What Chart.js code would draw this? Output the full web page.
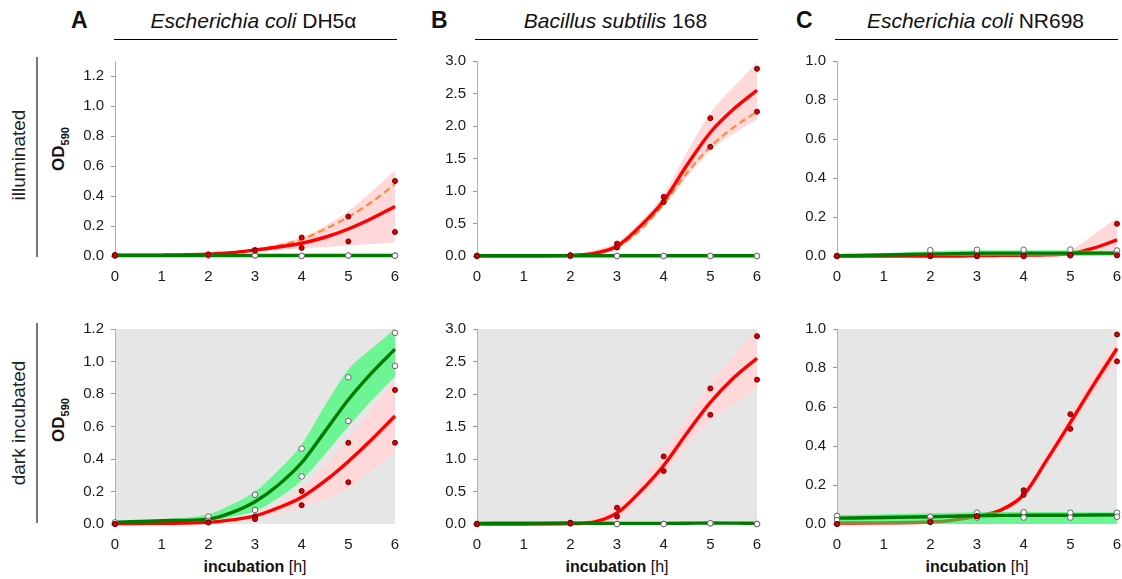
<!DOCTYPE html>
<html>
<head>
<meta charset="utf-8">
<script src="https://cdn.jsdelivr.net/npm/chart.js@4.4.0/dist/chart.umd.min.js"></script>
<style>
body { margin: 0; width: 1122px; height: 579px; overflow: hidden; background: #fff; position: relative;
       font-family: 'Liberation Sans', Arial, sans-serif; color: #111; }
.abs { position: absolute; }
.letter { font-weight: bold; font-size: 23px; }
.title { font-size: 21px; text-align: center; width: 283px; white-space: nowrap; }
.rule { height: 0; width: 283px; border-top: 1.5px solid #000; }
.vrule { width: 0; border-left: 2px solid #777; }
.rot { transform: translate(-50%, -50%) rotate(-90deg); white-space: nowrap; }
.row { font-size: 19px; color: #222; }
.od { font-size: 17px; font-weight: bold; }
.od sub { font-size: 11px; }
.xl { font-size: 16px; width: 280px; text-align: center; }
.box { position: absolute; width: 344px; height: 243px; }
</style>
</head>
<body>

<div class="abs letter" style="left:71px; top:7px;">A</div>
<div class="abs title" style="left:112px; top:9px;"><i>Escherichia coli</i> DH5α</div>
<div class="abs rule" style="left:114px; top:39px;"></div>

<div class="abs letter" style="left:431px; top:7px;">B</div>
<div class="abs title" style="left:474px; top:9px;"><i>Bacillus subtilis</i> 168</div>
<div class="abs rule" style="left:475px; top:39px;"></div>

<div class="abs letter" style="left:796px; top:7px;">C</div>
<div class="abs title" style="left:834px; top:9px;"><i>Escherichia coli</i> NR698</div>
<div class="abs rule" style="left:835px; top:39px;"></div>

<div class="abs vrule" style="left:36px; top:57px; height:200px;"></div>
<div class="abs vrule" style="left:36px; top:323px; height:200px;"></div>
<div class="abs rot row" style="left:19px; top:155px;">illuminated</div>
<div class="abs rot row" style="left:19px; top:423px;">dark incubated</div>
<div class="abs rot od" style="left:60px; top:149px;">OD<sub>590</sub></div>
<div class="abs rot od" style="left:60px; top:420px;">OD<sub>590</sub></div>

<div class="abs xl" style="left:115px; top:558px;"><b>incubation</b> [h]</div>
<div class="abs xl" style="left:477px; top:558px;"><b>incubation</b> [h]</div>
<div class="abs xl" style="left:837px; top:558px;"><b>incubation</b> [h]</div>

<div class="box" style="left:65px; top:45px;"><canvas id="aIll"></canvas></div>
<div class="box" style="left:427px; top:45px;"><canvas id="bIll"></canvas></div>
<div class="box" style="left:787px; top:45px;"><canvas id="cIll"></canvas></div>
<div class="box" style="left:65px; top:313px;"><canvas id="aDark"></canvas></div>
<div class="box" style="left:427px; top:313px;"><canvas id="bDark"></canvas></div>
<div class="box" style="left:787px; top:313px;"><canvas id="cDark"></canvas></div>

<script>
// time axis
const fitHours = [0, 1, 2, 2.5, 3, 3.5, 4, 4.5, 5, 5.5, 6];
const dotHours = [0, 0, 2, 2, 3, 3, 4, 4, 5, 5, 6, 6];
const xTicks = [0, 1, 2, 3, 4, 5, 6];

const yTicksA = [0, 0.2, 0.4, 0.6, 0.8, 1.0, 1.2];
const yTicksB = [0, 0.5, 1.0, 1.5, 2.0, 2.5, 3.0];
const yTicksC = [0, 0.2, 0.4, 0.6, 0.8, 1.0];

// A - E. coli DH5a, illuminated
const aIllRedFit = [0.005, 0.006, 0.012, 0.022, 0.04, 0.06, 0.085, 0.125, 0.18, 0.25, 0.33];
const aIllRedHi = [0.006, 0.007, 0.014, 0.026, 0.05, 0.08, 0.125, 0.2, 0.3, 0.43, 0.57];
const aIllRedLo = [0.004, 0.005, 0.01, 0.018, 0.03, 0.04, 0.05, 0.06, 0.07, 0.08, 0.09];
const aIllOrange = [null, null, null, null, 0.04, 0.07, 0.11, 0.18, 0.26, 0.36, 0.48];
const aIllGreenFit = [0.003, 0.003, 0.003, 0.003, 0.003, 0.003, 0.003, 0.003, 0.003, 0.003, 0.003];
const aIllGreenHi = [0.008, 0.008, 0.008, 0.008, 0.008, 0.008, 0.008, 0.008, 0.008, 0.008, 0.008];
const aIllGreenLo = [0, 0, 0, 0, 0, 0, 0, 0, 0, 0, 0];
const aIllRedDots = [0.005, 0.005, 0.01, 0.01, 0.04, 0.035, 0.123, 0.054, 0.263, 0.097, 0.50, 0.16];
const aIllWhiteDots = [0.003, 0.003, 0.005, 0.004, 0.004, 0.004, 0.0, 0.001, 0.003, 0.003, 0.002, 0.002];

// A - dark incubated
const aDarkGreenFit = [0.01, 0.02, 0.03, 0.07, 0.137, 0.24, 0.377, 0.57, 0.765, 0.93, 1.076];
const aDarkGreenHi = [0.012, 0.03, 0.06, 0.12, 0.2, 0.33, 0.49, 0.73, 0.95, 1.08, 1.2];
const aDarkGreenLo = [0.008, 0.012, 0.02, 0.045, 0.08, 0.16, 0.27, 0.43, 0.6, 0.76, 0.91];
const aDarkRedFit = [0.002, 0.004, 0.01, 0.025, 0.05, 0.1, 0.165, 0.265, 0.385, 0.52, 0.665];
const aDarkRedHi = [0.003, 0.005, 0.012, 0.03, 0.065, 0.13, 0.22, 0.36, 0.53, 0.71, 0.89];
const aDarkRedLo = [0.001, 0.003, 0.008, 0.02, 0.035, 0.065, 0.1, 0.155, 0.22, 0.33, 0.44];
const aDarkRedDots = [0.0, 0.0, 0.01, 0.01, 0.046, 0.03, 0.203, 0.116, 0.5, 0.257, 0.825, 0.5];
const aDarkWhiteDots = [0.005, 0.01, 0.046, 0.02, 0.18, 0.086, 0.464, 0.293, 0.903, 0.634, 1.176, 0.973];

// B - B. subtilis 168, illuminated
const bIllRedFit = [0.002, 0.003, 0.01, 0.04, 0.15, 0.46, 0.85, 1.4, 1.9, 2.26, 2.55];
const bIllRedHi = [0.003, 0.004, 0.02, 0.09, 0.21, 0.53, 0.95, 1.6, 2.2, 2.6, 2.98];
const bIllRedLo = [0.001, 0.002, 0.005, 0.02, 0.1, 0.38, 0.76, 1.22, 1.62, 1.88, 2.1];
const bIllOrange = [null, null, null, null, 0.12, 0.4, 0.8, 1.28, 1.68, 1.98, 2.22];
const bIllGreenFit = [0.005, 0.005, 0.005, 0.005, 0.005, 0.005, 0.005, 0.005, 0.005, 0.005, 0.005];
const bIllGreenHi = [0.02, 0.02, 0.02, 0.02, 0.02, 0.02, 0.02, 0.02, 0.02, 0.02, 0.02];
const bIllGreenLo = [0, 0, 0, 0, 0, 0, 0, 0, 0, 0, 0];
const bIllRedDots = [0.003, 0.003, 0.01, 0.01, 0.19, 0.13, 0.91, 0.83, 2.12, 1.68, 2.88, 2.22];
const bIllWhiteDots = [0, 0, 0, 0, 0, 0, 0, 0, 0, 0, 0, 0];

// B - dark incubated
const bDarkRedFit = [0.0, 0.0, 0.005, 0.03, 0.17, 0.5, 0.9, 1.4, 1.87, 2.25, 2.55];
const bDarkRedHi = [0.0, 0.0, 0.01, 0.1, 0.3, 0.66, 1.1, 1.65, 2.15, 2.6, 3.0];
const bDarkRedLo = [0, 0, 0, 0, 0.07, 0.38, 0.75, 1.2, 1.6, 1.85, 2.1];
const bDarkGreenFit = [0.01, 0.012, 0.015, 0.012, 0.01, 0.01, 0.01, 0.012, 0.015, 0.013, 0.01];
const bDarkGreenHi = [0.025, 0.027, 0.03, 0.027, 0.025, 0.025, 0.025, 0.027, 0.03, 0.028, 0.025];
const bDarkGreenLo = [0, 0, 0, 0, 0, 0, 0, 0, 0, 0, 0];
const bDarkRedDots = [0, 0, 0.02, 0.01, 0.25, 0.115, 1.04, 0.815, 2.085, 1.68, 2.89, 2.22];
const bDarkWhiteDots = [0, 0, 0.01, 0.01, 0, 0, 0, 0, 0.01, 0.01, 0, 0];

// C - E. coli NR698, illuminated
const cIllRedFit = [0.0, 0.0, 0.0, 0.0, 0.002, 0.003, 0.004, 0.006, 0.012, 0.04, 0.083];
const cIllRedHi = [0.002, 0.002, 0.002, 0.002, 0.003, 0.005, 0.008, 0.015, 0.03, 0.11, 0.195];
const cIllRedLo = [0, 0, 0, 0, 0, 0, 0, 0, 0, 0, 0];
const cIllGreenFit = [0.002, 0.005, 0.01, 0.012, 0.015, 0.015, 0.015, 0.015, 0.015, 0.015, 0.015];
const cIllGreenHi = [0.005, 0.015, 0.025, 0.028, 0.03, 0.03, 0.03, 0.03, 0.03, 0.028, 0.025];
const cIllGreenLo = [0, 0, 0, 0, 0, 0, 0, 0, 0, 0.001, 0.002];
const cIllRedDots = [0, 0, 0, 0, 0, 0, 0, 0, 0.005, 0.005, 0.165, 0.003];
const cIllWhiteDots = [0, 0, 0.03, 0, 0.032, 0, 0.032, 0, 0.033, 0.003, 0.028, 0.007];

// C - dark incubated
const cDarkRedFit = [0.005, 0.006, 0.01, 0.02, 0.04, 0.07, 0.15, 0.33, 0.52, 0.715, 0.9];
const cDarkRedHi = [0.01, 0.012, 0.018, 0.03, 0.045, 0.085, 0.17, 0.36, 0.56, 0.77, 0.95];
const cDarkRedLo = [0, 0.001, 0.004, 0.01, 0.035, 0.06, 0.13, 0.3, 0.47, 0.67, 0.82];
const cDarkGreenFit = [0.03, 0.033, 0.037, 0.04, 0.043, 0.044, 0.045, 0.045, 0.045, 0.046, 0.047];
const cDarkGreenHi = [0.045, 0.05, 0.055, 0.058, 0.06, 0.061, 0.062, 0.061, 0.06, 0.06, 0.06];
const cDarkGreenLo = [0, 0, 0, 0, 0, 0, 0, 0, 0, 0, 0];
const cDarkRedDots = [0.0, 0.0, 0.01, 0.01, 0.04, 0.04, 0.173, 0.15, 0.563, 0.488, 0.972, 0.834];
const cDarkWhiteDots = [0.042, 0.02, 0.037, 0.017, 0.058, 0.033, 0.061, 0.033, 0.058, 0.033, 0.058, 0.037];

const RED = '#ff0000', GREEN = '#007a00', ORANGE = '#ff8a3d';
const PINK = '#ffd9d9', LIGHTGREEN = 'rgba(20,255,90,0.58)';

Chart.defaults.font.family = "'Liberation Sans', Arial, sans-serif";
Chart.defaults.font.size = 15;
Chart.defaults.color = '#1a1a1a';

// grey plot background for the dark rows
const plotBg = {
  id: 'plotBg',
  beforeDraw(chart, args, opts) {
    if (!opts.color) return;
    const a = chart.chartArea;
    chart.ctx.save();
    chart.ctx.fillStyle = opts.color;
    chart.ctx.fillRect(a.left, a.top, a.right - a.left, a.bottom - a.top);
    chart.ctx.restore();
  }
};

function pts(xs, ys) {
  return xs.map((x, i) => ({ x: x, y: ys[i] }));
}

function curve(ys, color, width, extra) {
  return Object.assign({
    data: pts(fitHours, ys), borderColor: color, borderWidth: width,
    pointRadius: 0, fill: false, cubicInterpolationMode: 'monotone', clip: false
  }, extra || {});
}

function band(hi, lo, color) {
  return [
    curve(hi, 'rgba(0,0,0,0)', 0, { fill: '+1', backgroundColor: color }),
    curve(lo, 'rgba(0,0,0,0)', 0)
  ];
}

function dots(ys, fillColor, edge, r) {
  return {
    data: pts(dotHours, ys), showLine: false, pointRadius: r,
    pointBackgroundColor: fillColor, pointBorderColor: edge, pointBorderWidth: 1, clip: false
  };
}

function buildPanel(id, p) {
  // index 0 is drawn on top
  const ds = [
    dots(p.redDots, '#dd0000', '#6b0000', 2.5),
    dots(p.whiteDots, '#ffffff', '#666666', 2.8),
    curve(p.greenFit, GREEN, 3.4)
  ].concat(band(p.greenHi, p.greenLo, LIGHTGREEN))
   .concat([curve(p.redFit, RED, 3.4)]);
  if (p.orange) ds.push(curve(p.orange, ORANGE, 2.2, { borderDash: [7, 4] }));
  ds.push(...band(p.redHi, p.redLo, PINK));

  new Chart(document.getElementById(id), {
    type: 'line',
    data: { datasets: ds },
    plugins: [plotBg],
    options: {
      responsive: true, maintainAspectRatio: false, animation: false,
      layout: { padding: { top: 10, right: 14, left: 0, bottom: 0 } },
      plugins: { legend: { display: false }, tooltip: { enabled: false }, plotBg: { color: p.bg } },
      scales: {
        x: {
          type: 'linear', min: 0, max: 6,
          afterBuildTicks: s => { s.ticks = xTicks.map(v => ({ value: v })); },
          afterFit: s => { s.height = 32; },
          grid: { display: false }, border: { display: false },
          ticks: { padding: 4, maxRotation: 0, font: { size: 15 }, callback: v => v }
        },
        y: {
          min: 0, max: p.yMax,
          afterBuildTicks: s => { s.ticks = p.yTicks.map(v => ({ value: v })); },
          afterFit: s => { s.width = 50; },
          grid: { drawOnChartArea: false, tickLength: 4, color: '#999' },
          border: { display: true, color: '#b0b0b0' },
          ticks: { padding: 7, font: { size: 15 }, callback: v => Number(v).toFixed(1) }
        }
      }
    }
  });
}

buildPanel('aIll', { yMax: 1.3, yTicks: yTicksA, bg: null,
  redFit: aIllRedFit, redHi: aIllRedHi, redLo: aIllRedLo, orange: aIllOrange,
  greenFit: aIllGreenFit, greenHi: aIllGreenHi, greenLo: aIllGreenLo,
  redDots: aIllRedDots, whiteDots: aIllWhiteDots });
buildPanel('bIll', { yMax: 3.0, yTicks: yTicksB, bg: null,
  redFit: bIllRedFit, redHi: bIllRedHi, redLo: bIllRedLo, orange: bIllOrange,
  greenFit: bIllGreenFit, greenHi: bIllGreenHi, greenLo: bIllGreenLo,
  redDots: bIllRedDots, whiteDots: bIllWhiteDots });
buildPanel('cIll', { yMax: 1.0, yTicks: yTicksC, bg: null,
  redFit: cIllRedFit, redHi: cIllRedHi, redLo: cIllRedLo,
  greenFit: cIllGreenFit, greenHi: cIllGreenHi, greenLo: cIllGreenLo,
  redDots: cIllRedDots, whiteDots: cIllWhiteDots });
buildPanel('aDark', { yMax: 1.2, yTicks: yTicksA, bg: '#e6e6e6',
  redFit: aDarkRedFit, redHi: aDarkRedHi, redLo: aDarkRedLo,
  greenFit: aDarkGreenFit, greenHi: aDarkGreenHi, greenLo: aDarkGreenLo,
  redDots: aDarkRedDots, whiteDots: aDarkWhiteDots });
buildPanel('bDark', { yMax: 3.0, yTicks: yTicksB, bg: '#e6e6e6',
  redFit: bDarkRedFit, redHi: bDarkRedHi, redLo: bDarkRedLo,
  greenFit: bDarkGreenFit, greenHi: bDarkGreenHi, greenLo: bDarkGreenLo,
  redDots: bDarkRedDots, whiteDots: bDarkWhiteDots });
buildPanel('cDark', { yMax: 1.0, yTicks: yTicksC, bg: '#e6e6e6',
  redFit: cDarkRedFit, redHi: cDarkRedHi, redLo: cDarkRedLo,
  greenFit: cDarkGreenFit, greenHi: cDarkGreenHi, greenLo: cDarkGreenLo,
  redDots: cDarkRedDots, whiteDots: cDarkWhiteDots });
</script>
</body>
</html>
